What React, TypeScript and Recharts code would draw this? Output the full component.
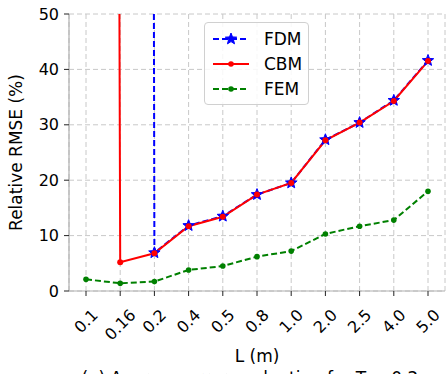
import React from "react";
import { LineChart, Line, XAxis, YAxis, CartesianGrid } from "recharts";

const categories = ["0.1", "0.16", "0.2", "0.4", "0.5", "0.8", "1.0", "2.0", "2.5", "4.0", "5.0"];
const fdmValues = [5000, 3000, 6.9, 11.8, 13.5, 17.4, 19.5, 27.3, 30.4, 34.4, 41.6];
const cbmValues = [2000, 5.2, 6.8, 11.7, 13.4, 17.4, 19.5, 27.2, 30.4, 34.3, 41.5];
const femValues = [2.1, 1.4, 1.7, 3.8, 4.5, 6.2, 7.2, 10.3, 11.7, 12.8, 18.0];
const yTicks = [0, 10, 20, 30, 40, 50];

const data = categories.map((c, i) => ({
  L: c,
  FDM: fdmValues[i],
  CBM: cbmValues[i],
  FEM: femValues[i],
}));

const FONT = "'DejaVu Sans', sans-serif";

const charW = (s: string, fs: number) => {
  let w = 0;
  for (const ch of s) w += ch === "." ? 0.318 : 0.636;
  return w * fs;
};

const XTick = (props: any) => {
  const { x, y, payload } = props;
  const fs = 16;
  const w = charW(String(payload.value), fs);
  const capH = 11.5;
  const bboxH = (w + capH) * Math.SQRT1_2;
  const cy = 12 + bboxH / 2;
  return (
    <g transform={`translate(${x},${y + cy})`}>
      <text
        transform="rotate(-45)"
        textAnchor="middle"
        dominantBaseline="central"
        fontSize={fs}
        fontFamily={FONT}
        fill="#000"
      >
        {payload.value}
      </text>
    </g>
  );
};

const Star = (props: any) => {
  const { cx, cy } = props;
  if (cx == null || cy == null) return null;
  const R = 6;
  const r = 2.6;
  const pts: string[] = [];
  for (let i = 0; i < 10; i++) {
    const a = -Math.PI / 2 + (i * Math.PI) / 5;
    const rad = i % 2 === 0 ? R : r;
    pts.push(`${cx + rad * Math.cos(a)},${cy + rad * Math.sin(a)}`);
  }
  return <polygon points={pts.join(" ")} fill="#0000ff" stroke="#0000ff" strokeWidth={1} />;
};

const legendItems = [
  { name: "FDM", color: "#0000ff", dash: "6 3", marker: "star" },
  { name: "CBM", color: "#ff0000", dash: undefined, marker: "dot" },
  { name: "FEM", color: "#008000", dash: "6 3", marker: "dot" },
];

const LegendBox = () => (
  <div
    style={{
      position: "absolute",
      left: 204,
      top: 22,
      width: 105,
      height: 83,
      border: "1px solid #d0d0d0",
      borderRadius: 4,
      background: "rgba(255,255,255,0.85)",
      boxSizing: "border-box",
    }}
  >
    {legendItems.map((it, i) => (
      <div key={it.name} style={{ position: "absolute", left: 7, top: 6 + i * 25, height: 20, display: "flex", alignItems: "center" }}>
        <svg width={38} height={20}>
          <line x1={1} y1={10} x2={37} y2={10} stroke={it.color} strokeWidth={2} strokeDasharray={it.dash} />
          {it.marker === "star" ? <Star cx={19} cy={10} /> : <circle cx={19} cy={10} r={2.8} fill={it.color} />}
        </svg>
        <span style={{ marginLeft: 14, fontFamily: FONT, fontSize: 17, color: "#000", lineHeight: "20px" }}>{it.name}</span>
      </div>
    ))}
  </div>
);

const XLabel = () => (
  <g>
    <text x={257} y={362} textAnchor="middle" fontSize={17} fontFamily={FONT} fill="#000">
      L (m)
    </text>
    <text x={257} y={384} textAnchor="middle" fontSize={17} fontFamily={FONT} fill="#000">
      (a) Average error evaluation for T = 0.2 s
    </text>
  </g>
);

export default function App() {
  return (
    <div style={{ position: "fixed", left: 0, top: 0, width: 447, height: 374, background: "#fff", overflow: "hidden" }}>
      <LineChart width={447} height={374} data={data} margin={{ top: 14, right: 2, left: 0, bottom: 0 }}>
        <CartesianGrid stroke="#c8c8c8" strokeDasharray="5 3" strokeWidth={1} />
        <XAxis
          dataKey="L"
          height={83}
          interval={0}
          padding={{ left: 17, right: 17 }}
          tick={<XTick />}
          tickSize={5}
          tickMargin={0}
          axisLine={{ stroke: "#b0b0b0", strokeWidth: 1.2 }}
          tickLine={{ stroke: "#222" }}
          label={<XLabel />}
        />
        <XAxis xAxisId="top" dataKey="L" orientation="top" height={0} tick={false} tickLine={false} axisLine={{ stroke: "#b0b0b0", strokeWidth: 1.2 }} />
        <YAxis
          width={69}
          domain={[0, 50]}
          ticks={yTicks}
          allowDataOverflow
          tickSize={5}
          tickMargin={5}
          tick={{ fontSize: 16, fontFamily: FONT, fill: "#000" }}
          axisLine={{ stroke: "#b0b0b0", strokeWidth: 1.2 }}
          tickLine={{ stroke: "#222" }}
          label={{
            value: "Relative RMSE (%)",
            angle: -90,
            position: "insideLeft",
            offset: 16,
            style: { fontSize: 17, fontFamily: FONT, fill: "#000", textAnchor: "middle" },
          }}
        />
        <YAxis yAxisId="right" orientation="right" width={0} domain={[0, 50]} tick={false} tickLine={false} axisLine={{ stroke: "#b0b0b0", strokeWidth: 1.2 }} />
        <Line
          dataKey="FDM"
          stroke="#0000ff"
          strokeWidth={2}
          strokeDasharray="6 3"
          dot={<Star />}
          activeDot={false}
          isAnimationActive={false}
        />
        <Line
          dataKey="CBM"
          stroke="#ff0000"
          strokeWidth={2}
          dot={{ r: 3, fill: "#ff0000", stroke: "#ff0000", strokeWidth: 0 }}
          activeDot={false}
          isAnimationActive={false}
        />
        <Line
          dataKey="FEM"
          stroke="#008000"
          strokeWidth={2}
          strokeDasharray="6 3"
          dot={{ r: 2.8, fill: "#008000", stroke: "#008000", strokeWidth: 0 }}
          activeDot={false}
          isAnimationActive={false}
        />
      </LineChart>
      <LegendBox />
    </div>
  );
}
